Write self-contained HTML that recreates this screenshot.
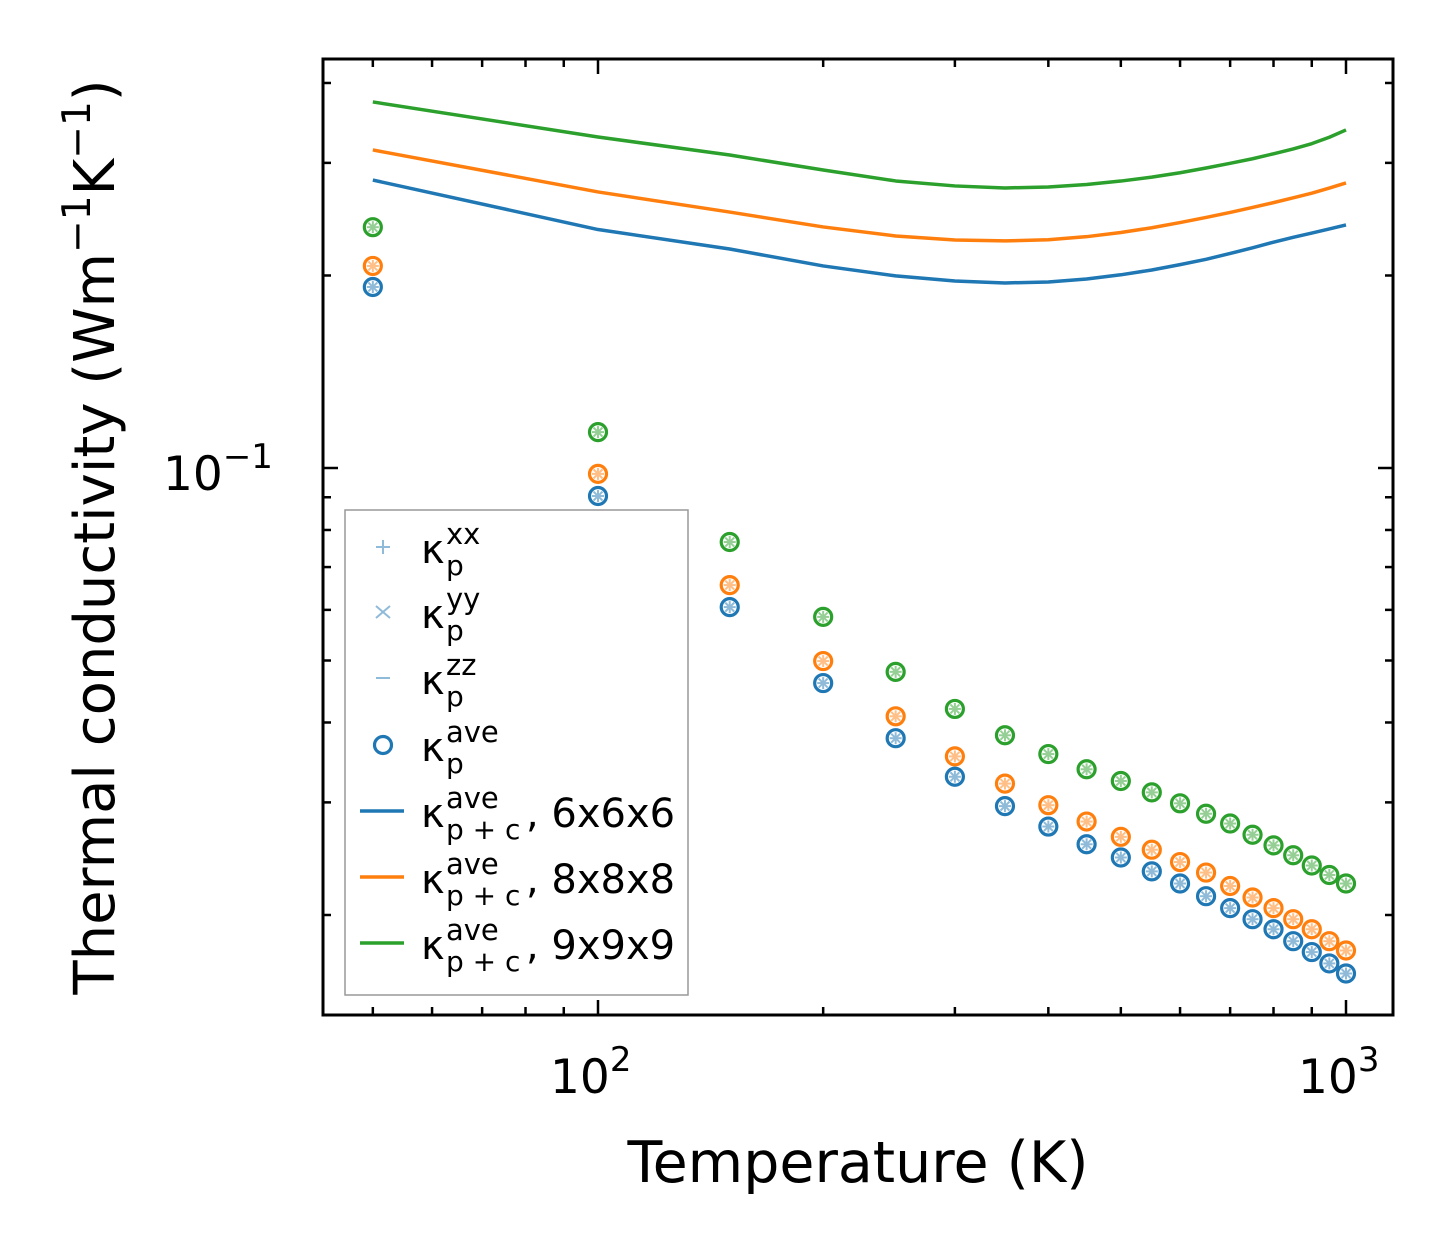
<!DOCTYPE html>
<html><head><meta charset="utf-8"><style>
html,body{margin:0;padding:0;background:#fff}
svg{display:block;font-family:"DejaVu Sans","Liberation Sans",sans-serif}
</style></head><body>
<svg id="chart" width="1454" height="1254" viewBox="0 0 1454 1254" xmlns="http://www.w3.org/2000/svg">
<rect x="0" y="0" width="1454" height="1254" fill="#fff"/>
<g id="lines"></g>
<g id="points"></g>
<g id="ticks"></g>
<rect x="323" y="59" width="1070" height="956" fill="none" stroke="#000" stroke-width="3"/>
<text x="163" y="490" font-size="47">10<tspan dy="-22" font-size="34">−1</tspan></text>
<text x="550" y="1093" font-size="47">10<tspan dy="-22" font-size="34">2</tspan></text>
<text x="1298" y="1093" font-size="47">10<tspan dy="-22" font-size="34">3</tspan></text>
<text x="858" y="1182" font-size="57" text-anchor="middle">Temperature (K)</text>
<text transform="translate(114,537) rotate(-90)" font-size="56" text-anchor="middle">Thermal conductivity (Wm<tspan dy="-24" font-size="39">−1</tspan><tspan dy="24">K</tspan><tspan dy="-24" font-size="39">−1</tspan><tspan dy="24">)</tspan></text>
<g>
<rect x="345" y="510" width="343" height="485" fill="#fff" stroke="#999" stroke-width="1.5"/>
<g id="legend-items"></g>
</g>
</svg>
<script>
const temps = [50,100,150,200,250,300,350,400,450,500,550,600,650,700,750,800,850,900,950,1000];
const kpBlue = [0.1919,0.0904,0.0606,0.0461,0.0378,0.0329,0.0296,0.0275,0.0258,0.0246,0.0234,0.0224,0.0214,0.0205,0.0197,0.0190,0.0182,0.0175,0.0168,0.0162];
const kpOrange = [0.207,0.0979,0.0656,0.0499,0.0409,0.0354,0.0321,0.0297,0.0280,0.0265,0.0253,0.0242,0.0233,0.0222,0.0213,0.0205,0.0197,0.0190,0.0182,0.0176];
const kpGreen = [0.238,0.1138,0.0766,0.0585,0.0480,0.0420,0.0382,0.0357,0.0338,0.0324,0.0311,0.0299,0.0288,0.0278,0.0267,0.0257,0.0248,0.0239,0.0231,0.0224];
const kpc6 = [0.282,0.236,0.220,0.207,0.1997,0.1961,0.1947,0.1954,0.1975,0.2005,0.2040,0.2080,0.2120,0.2165,0.2210,0.2255,0.2295,0.2330,0.2365,0.2399];
const kpc8 = [0.3143,0.2702,0.2513,0.2382,0.2306,0.2273,0.2265,0.2275,0.2300,0.2335,0.2375,0.2420,0.2465,0.2510,0.2555,0.2600,0.2645,0.2690,0.2740,0.2791];
const kpc9 = [0.3736,0.3293,0.3086,0.2924,0.2811,0.2761,0.2741,0.2751,0.2775,0.2810,0.2850,0.2895,0.2945,0.2995,0.3045,0.3100,0.3155,0.3215,0.3290,0.3378];
const xMinorTicks = [50,60,70,80,90,200,300,400,500,600,700,800,900];
const xMajorTicks = [100,1000];
const yMinorTicks = [0.02,0.03,0.04,0.05,0.06,0.07,0.08,0.09,0.2,0.3,0.4];
const yMajorTicks = [0.1];
const legendLabels = [["xx",""],["yy",""],["zz",""],["ave",""],["ave",", 6x6x6"],["ave",", 8x8x8"],["ave",", 9x9x9"]];

const NS="http://www.w3.org/2000/svg";
const L=323,R=1393,T=59,B=1015;
function xs(v){return 598+(Math.log10(v)-2)*748;}
function ys(v){return 468-(Math.log10(v)+1)*639.5;}
function mk(tag,attrs,parent){const e=document.createElementNS(NS,tag);for(const k in attrs)e.setAttribute(k,attrs[k]);parent.appendChild(e);return e;}

const colors={blue:"#1f77b4",orange:"#ff7f0e",green:"#2ca02c"};
const light={blue:"#8fbbd9",orange:"#ffbf86",green:"#95cf95"};

const gl=document.getElementById('lines');
[[kpc6,'blue','line-6x6x6'],[kpc8,'orange','line-8x8x8'],[kpc9,'green','line-9x9x9']].forEach(([arr,c,n])=>{
  const p=mk('polyline',{points:temps.map((t,i)=>xs(t)+','+ys(arr[i])).join(' '),fill:'none',stroke:colors[c],'stroke-width':3.5,'stroke-linejoin':'round'},gl);
  
  
});

const gp=document.getElementById('points');
function marker(g,cx,cy,c){
  const lc=light[c];
  mk('line',{x1:cx-6,y1:cy,x2:cx+6,y2:cy,stroke:lc,'stroke-width':2},g);
  mk('line',{x1:cx,y1:cy-6,x2:cx,y2:cy+6,stroke:lc,'stroke-width':2},g);
  mk('line',{x1:cx-4.5,y1:cy-4.5,x2:cx+4.5,y2:cy+4.5,stroke:lc,'stroke-width':2},g);
  mk('line',{x1:cx-4.5,y1:cy+4.5,x2:cx+4.5,y2:cy-4.5,stroke:lc,'stroke-width':2},g);
  mk('circle',{cx:cx,cy:cy,r:8.5,fill:'none',stroke:colors[c],'stroke-width':3.2},g);
}
[[kpBlue,'blue'],[kpOrange,'orange'],[kpGreen,'green']].forEach(([arr,c])=>{
  temps.forEach((t,i)=>{
    const g=mk('g',{},gp);
    
    
    marker(g,xs(t),ys(arr[i]),c);
  });
});

const gt=document.getElementById('ticks');
function xt(v,len){[[B,B-len],[T,T+len]].forEach(([a,b])=>{const l=mk('line',{x1:xs(v),y1:a,x2:xs(v),y2:b,stroke:'#000','stroke-width':2.5},gt);});}
function yt(v,len){[[L,L+len],[R,R-len]].forEach(([a,b])=>{const l=mk('line',{x1:a,y1:ys(v),x2:b,y2:ys(v),stroke:'#000','stroke-width':2.5},gt);});}
xMinorTicks.forEach(v=>xt(v,8));xMajorTicks.forEach(v=>xt(v,15));
yMinorTicks.forEach(v=>yt(v,8));yMajorTicks.forEach(v=>yt(v,15));

const gli=document.getElementById('legend-items');
const rowY=[547,612,678,745,811,877,943];
legendLabels.forEach((lab,i)=>{
  const y=rowY[i];
  const g=mk('g',{},gli);
  
  
  const lc=light.blue;
  if(i===0){mk('line',{x1:376,y1:y,x2:390,y2:y,stroke:lc,'stroke-width':2},g);mk('line',{x1:383,y1:y-7,x2:383,y2:y+7,stroke:lc,'stroke-width':2},g);}
  else if(i===1){mk('line',{x1:376,y1:y-6,x2:390,y2:y+6,stroke:lc,'stroke-width':2},g);mk('line',{x1:376,y1:y+6,x2:390,y2:y-6,stroke:lc,'stroke-width':2},g);}
  else if(i===2){mk('line',{x1:376,y1:y,x2:390,y2:y,stroke:lc,'stroke-width':2},g);}
  else if(i===3){mk('circle',{cx:383,cy:y,r:8.5,fill:'none',stroke:colors.blue,'stroke-width':3.2},g);}
  else {const c=['blue','orange','green'][i-4];mk('line',{x1:360,y1:y,x2:404,y2:y,stroke:colors[c],'stroke-width':3.5},g);}
  const k=mk('text',{x:421,y:y+16,'font-size':40},g); k.textContent='κ';
  const sb=mk('text',{x:446,y:y+28,'font-size':28},g); sb.textContent=(i>=4?'p + c':'p');
  const sp=mk('text',{x:446,y:y-3,'font-size':29},g); sp.textContent=lab[0];
  if(lab[1]){const s=mk('text',{x:526,y:y+16,'font-size':40},g);s.textContent=lab[1];}
});
</script>
</body></html>
